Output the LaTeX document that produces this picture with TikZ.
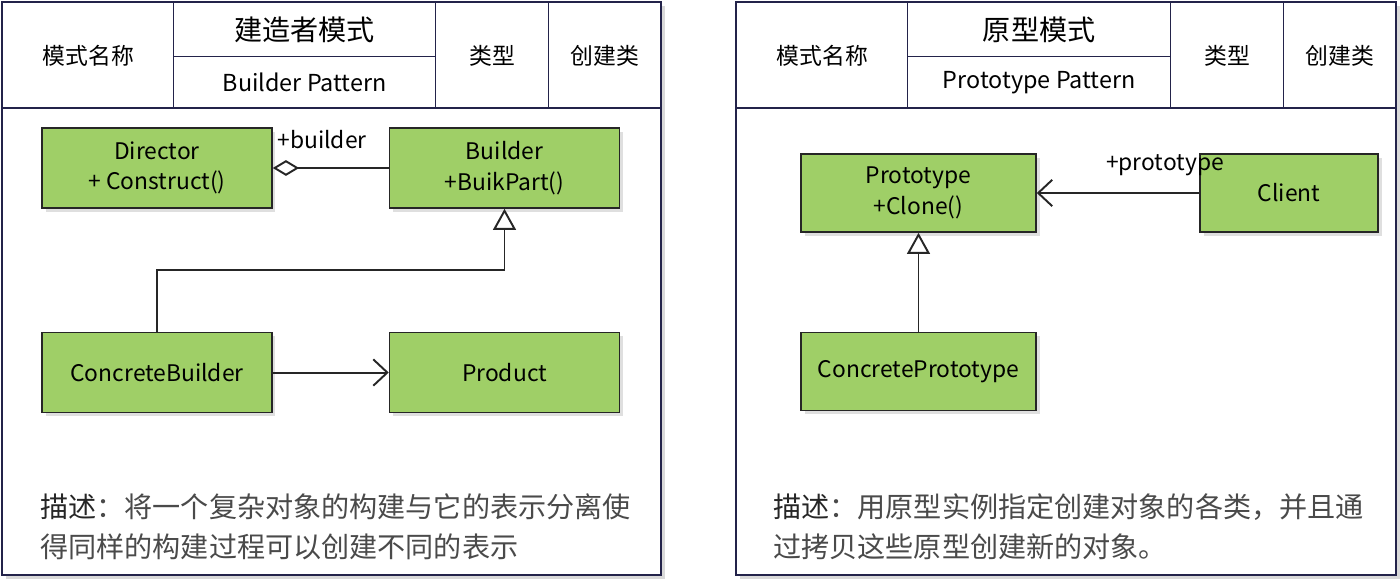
\documentclass[tikz,border=0pt]{standalone}
\usepackage{fontspec}
\setmainfont{Noto Sans CJK SC}
\usetikzlibrary{arrows.meta,positioning,shadows}

\definecolor{umlgreen}{HTML}{9FCF67}
\definecolor{panelcol}{HTML}{23234A}
\definecolor{desccol}{HTML}{4A4A4A}

\begin{document}
\begin{tikzpicture}[
  x=0.02cm, y=-0.02cm,
  cls/.style={draw=black!85, fill=umlgreen, line width=0.9pt, minimum width=4.6cm, minimum height=1.6cm,
    align=center, font=\fontsize{13}{17.5}\selectfont, inner sep=2pt,
    drop shadow={shadow xshift=2pt, shadow yshift=-2pt, opacity=0.25}},
  panel/.style={draw=panelcol, line width=0.9pt, fill=white,
    drop shadow={shadow xshift=2.5pt, shadow yshift=-2.5pt, opacity=0.3}},
  cell/.style={draw=panelcol, line width=0.8pt, anchor=north west, inner sep=0pt, font=\fontsize{13}{15}\selectfont},
  desc/.style={anchor=base west, align=left, inner sep=0pt, text=desccol, font=\fontsize{16}{22.7}\selectfont},
  lbl/.style={font=\fontsize{13}{15}\selectfont, inner sep=0pt},
  inherit/.style={draw=black!85, line width=1.1pt, -{Triangle[open, length=12pt, width=13pt, fill=white]}},
  assoc/.style={draw=black!85, line width=1.1pt, -{Straight Barb[length=8pt, width=15pt]}},
  aggr/.style={draw=black!85, line width=1.1pt, {Diamond[open, length=15pt, width=9pt, fill=white]}-}
]
\useasboundingbox (0,0) rectangle (1400,581);

% left panel: builder pattern
\draw[panel] (2,2) rectangle (661,575);
\draw[panelcol, line width=0.8pt] (2,108) -- (661,108);
\node[cell, minimum width=3.42cm, minimum height=2.12cm] (lname) at (2,2) {模式名称};
\node[cell, minimum width=5.24cm, minimum height=1.08cm, font=\fontsize{16}{18}\selectfont] (lcn) at (173,2) {建造者模式};
\node[cell, minimum width=5.24cm, minimum height=1.04cm, font=\fontsize{13.3}{15}\selectfont] (len) at (173,56) {Builder Pattern};
\node[cell, minimum width=2.26cm, minimum height=2.12cm] (ltype) at (435,2) {类型};
\node[cell, minimum width=2.26cm, minimum height=2.12cm] (lkind) at (548,2) {创建类};

\node[cls] (director) at (157,168) {Director\\+ Construct()};
\node[cls, right=2.32cm of director] (builder) {Builder\\+BuikPart()};
\node[cls, below=2.46cm of director] (cbuilder) {ConcreteBuilder};
\node[cls, below=2.46cm of builder] (product) {Product};

\draw[aggr] (director.east) -- (builder.west);
\node[lbl] (lblbuilder) at (322,140) {+builder};
\draw[inherit] (cbuilder.north) -- ++(0,-62) -| (builder.south);
\draw[assoc] (cbuilder.east) -- (product.west);

\node[desc] (ldesc) at (40,557) {\textcolor{black!85}{描述}：将一个复杂对象的构建与它的表示分离使\\得同样的构建过程可以创建不同的表示};

% right panel: prototype pattern
\draw[panel] (736,2) rectangle (1396,575);
\draw[panelcol, line width=0.8pt] (736,108) -- (1396,108);
\node[cell, minimum width=3.42cm, minimum height=2.12cm] (rname) at (736,2) {模式名称};
\node[cell, minimum width=5.26cm, minimum height=1.08cm, font=\fontsize{16}{18}\selectfont] (rcn) at (907,2) {原型模式};
\node[cell, minimum width=5.26cm, minimum height=1.04cm, font=\fontsize{13.3}{15}\selectfont] (ren) at (907,56) {Prototype Pattern};
\node[cell, minimum width=2.26cm, minimum height=2.12cm] (rtype) at (1170,2) {类型};
\node[cell, minimum width=2.26cm, minimum height=2.12cm] (rkind) at (1283,2) {创建类};

\node[cls, minimum width=4.7cm, minimum height=1.56cm] (proto) at (918.5,193) {Prototype\\+Clone()};
\node[cls, minimum width=3.56cm, minimum height=1.56cm] (client) at (1289,193) {Client};
\node[cls, minimum width=4.7cm, minimum height=1.56cm, below=1.98cm of proto] (cproto) {ConcretePrototype};

\draw[assoc] (client.west) -- (proto.east);
\node[lbl] (lblproto) at (1165,165) {+prototype};
\draw[inherit] (cproto.north) -- (proto.south);

\node[desc] (rdesc) at (773,557) {\textcolor{black!85}{描述}：用原型实例指定创建对象的各类，并且通\\过拷贝这些原型创建新的对象。};
\end{tikzpicture}
\end{document}
